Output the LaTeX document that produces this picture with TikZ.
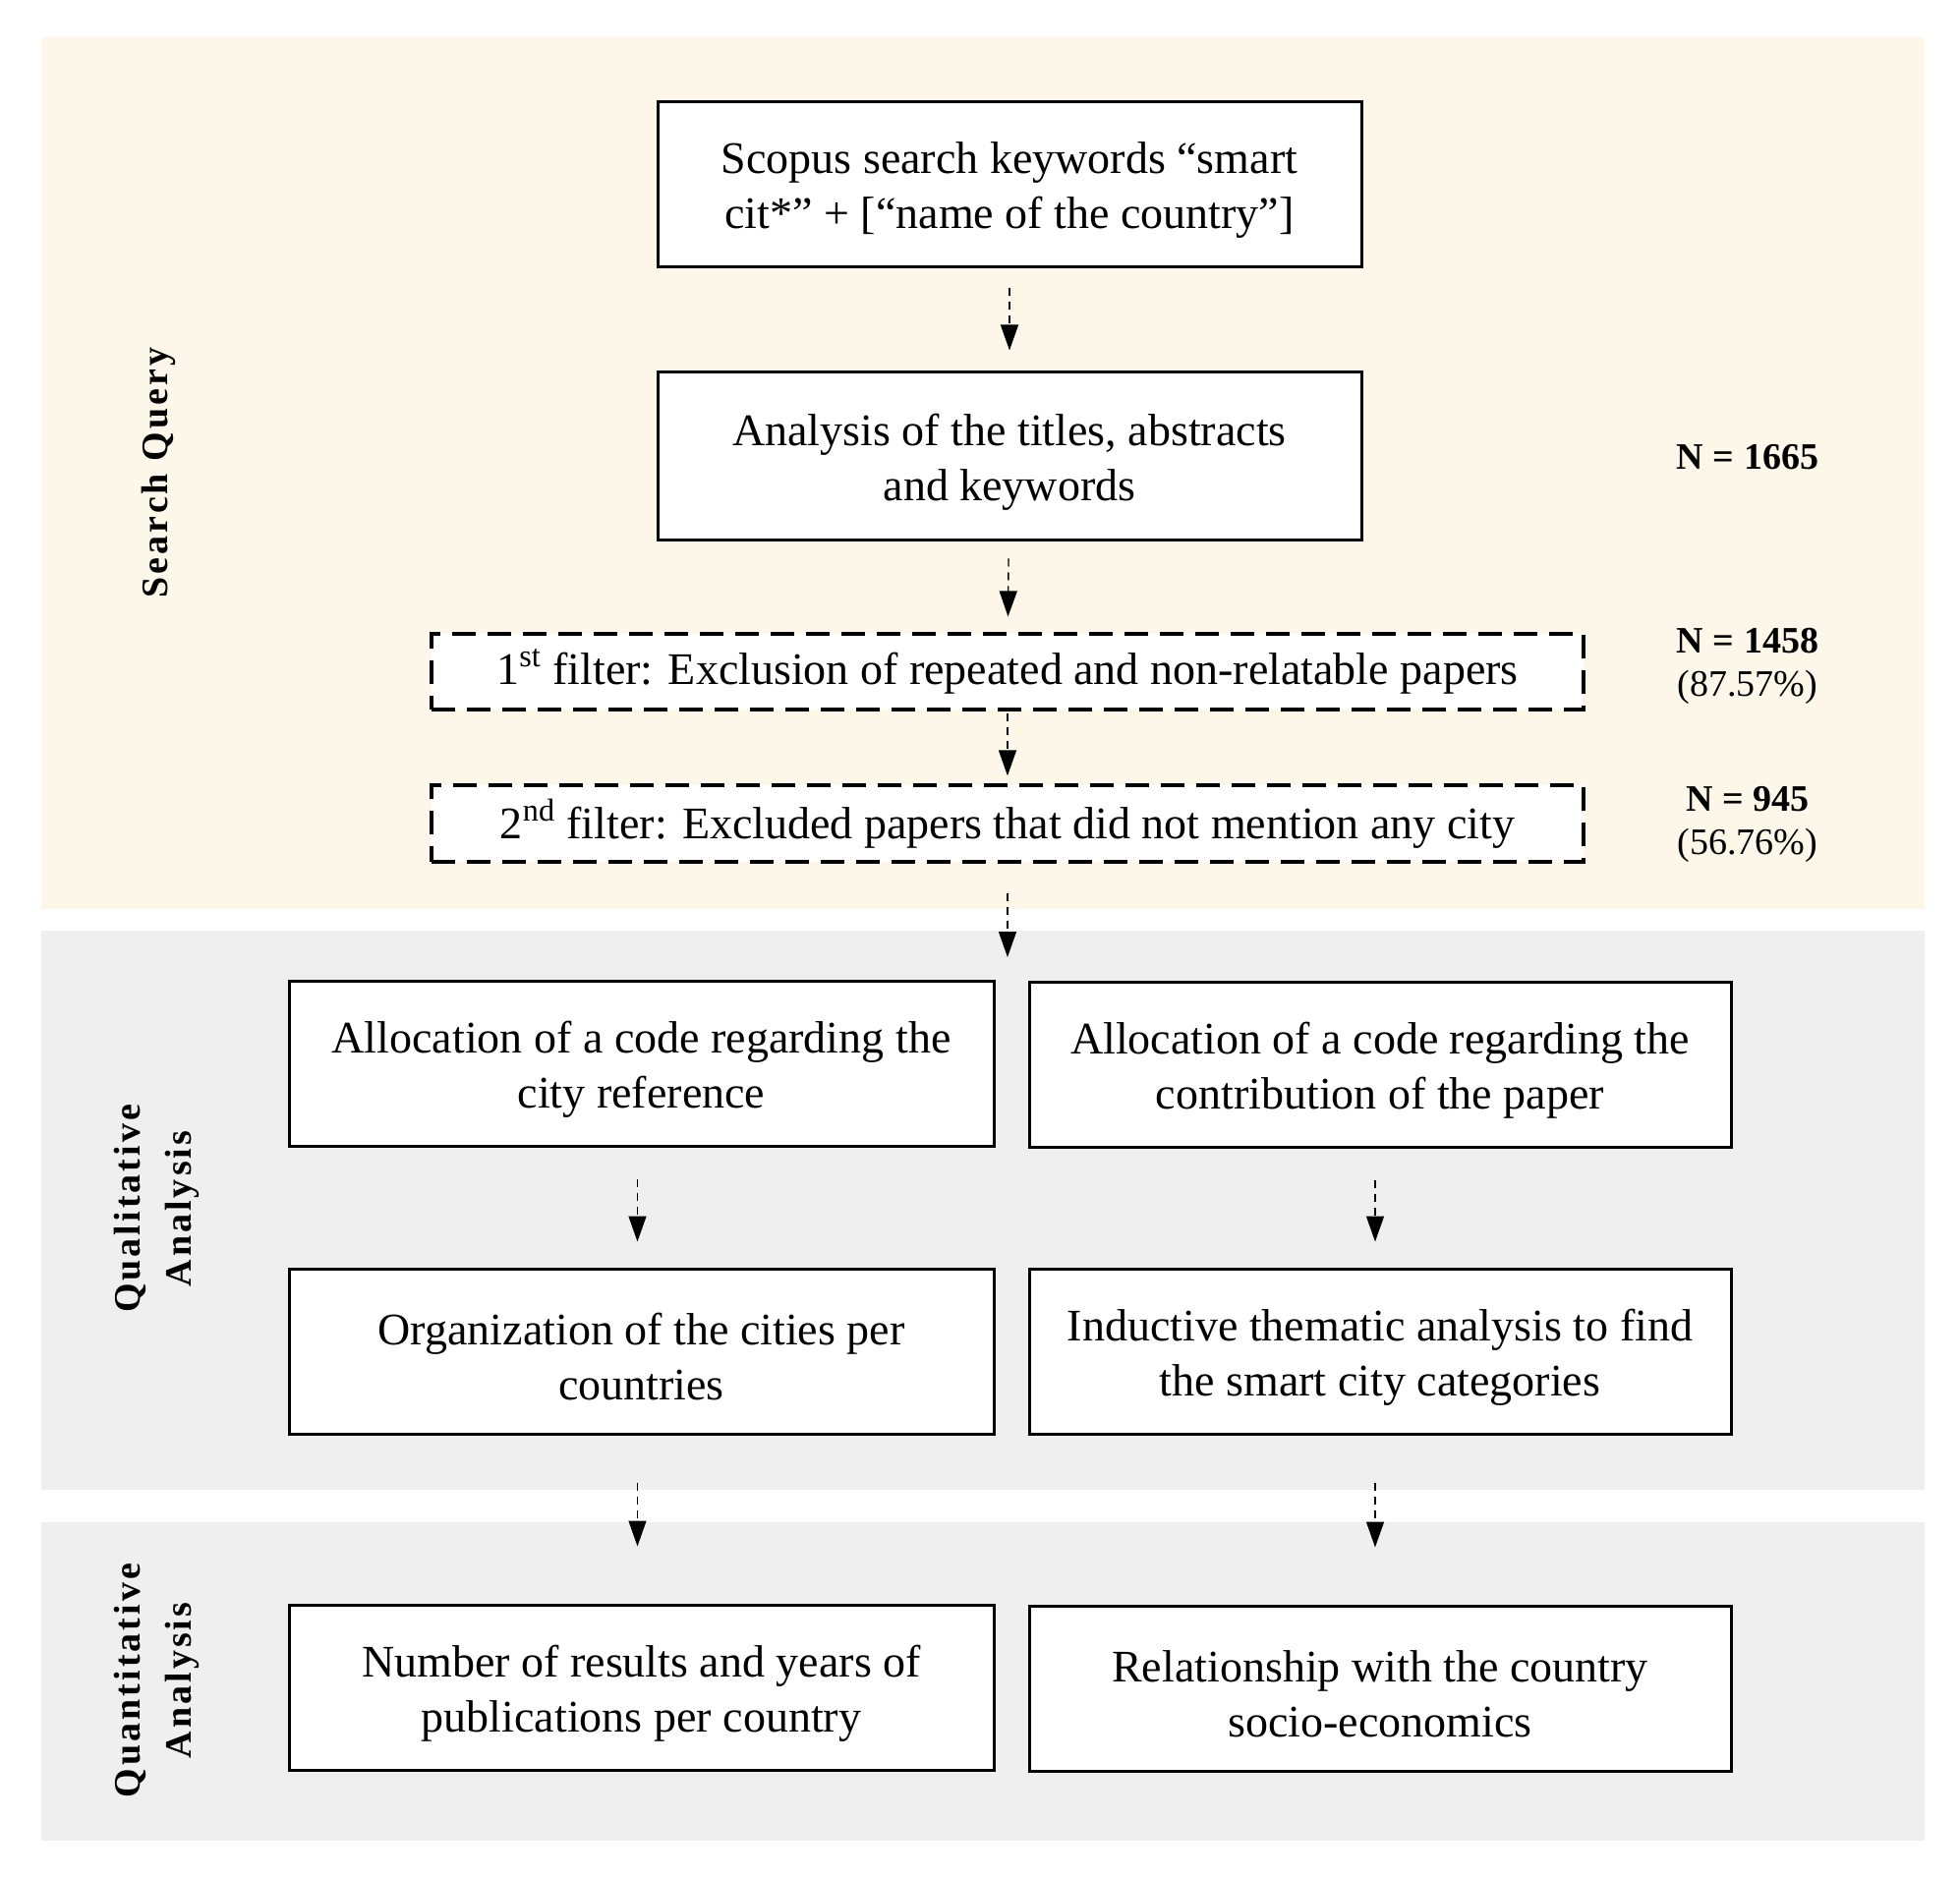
\documentclass[tikz,border=0pt]{standalone}
\usepackage{fontspec}
\setmainfont{Liberation Serif}
\usetikzlibrary{arrows.meta}
\definecolor{cream}{HTML}{FCF7E9}
\definecolor{band}{HTML}{EFEFEF}
\begin{document}
\begin{tikzpicture}[x=0.5pt,y=-0.5pt,
  boxframe/.style={draw=black,line width=1.5pt,fill=white,inner sep=0pt},
  box/.style={boxframe,minimum width=358pt,minimum height=84pt},
  txt/.style={label={[align=center,inner sep=0pt,yshift=-3pt,font=\fontsize{23}{28}\selectfont]center:{#1}}},
  fbox/.style={draw=black,line width=1.6pt,fill=white,align=center,inner sep=0pt,
    dash pattern=on 12pt off 6pt,font=\fontsize{23}{28}\selectfont},
  arr/.style={line width=0.7pt,dash pattern=on 4pt off 3pt,
    -{Triangle[width=9pt,length=13pt]}},
  nlab/.style={align=center,font=\fontsize{19}{22}\selectfont},
  side/.style={rotate=90,align=center,font=\fontsize{19}{26}\selectfont\bfseries\addfontfeatures{LetterSpace=8}}
]
\useasboundingbox (0,0) rectangle (1994,1910);
\fill[white] (0,0) rectangle (1994,1910);
% bands
\fill[cream] (42,38) rectangle (1958,925);
\fill[band] (42,947) rectangle (1958,1516);
\fill[band] (42,1549) rectangle (1958,1873);
% side labels
\node[side] (sq) at (161,481) {Search Query};
\node[side] (ql) at (159,1230) {Qualitative\\Analysis};
\node[side] (qn) at (159,1710) {Quantitative\\Analysis};
% search boxes
\node[box,txt={Scopus search keywords “smart\\cit*” + [“name of the country”]}] (b1) at (1027,188) {};
\node[box,minimum height=85pt,txt={Analysis of the titles, abstracts\\and keywords}] (b2) at (1027,464) {};
\node[fbox,minimum width=586pt,minimum height=38.5pt] (f1) at (1025,683.5)
  {\raisebox{-1pt}{1\textsuperscript{st} filter: Exclusion of repeated and non-relatable papers}};
\node[fbox,minimum width=586pt,minimum height=39pt] (f2) at (1025,838)
  {\raisebox{-1pt}{2\textsuperscript{nd} filter: Excluded papers that did not mention any city}};
% N labels
\node[nlab] (n1) at (1778,465) {\textbf{N = 1665}};
\node[nlab] (n2) at (1778,678) {\textbf{N = 1458}\\(87.57\%)};
\node[nlab] (n3) at (1778,839) {\textbf{N = 945}\\(56.76\%)};
% qualitative boxes
\node[box,minimum width=358.5pt,txt={Allocation of a code regarding the\\city reference}] (q1) at (652.5,1082) {};
\node[box,minimum width=357pt,txt={Allocation of a code regarding the\\contribution of the paper}] (q2) at (1404,1083) {};
\node[box,minimum width=358.5pt,txt={Organization of the cities per\\countries}] (q3) at (652.5,1375) {};
\node[box,minimum width=357pt,txt={Inductive thematic analysis to find\\the smart city categories}] (q4) at (1404,1375) {};
% quantitative boxes
\node[box,minimum width=358.5pt,txt={Number of results and years of\\publications per country}] (t1) at (652.5,1717) {};
\node[box,minimum width=357pt,txt={Relationship with the country\\socio-economics}] (t2) at (1404,1718) {};
% arrows
\coordinate (qtop) at (1025,974);
\draw[arr,shorten <=10pt,shorten >=10.5pt] (b1) -- (b2);
\draw[arr,shorten <=9pt,shorten >=8pt] (b2) -- (f1);
\draw[arr,shorten <=1pt,shorten >=4pt] (f1) -- (f2);
\draw[arr,shorten <=15pt] (f2.south) -- (qtop);
\draw[arr,shorten <=16pt,shorten >=13pt] ([xshift=-2pt]q1.south) -- ([xshift=-2pt]q3.north);
\draw[arr,shorten <=16pt,shorten >=13pt] ([xshift=-2.5pt]q2.south) -- ([xshift=-2.5pt]q4.north);
\draw[arr,shorten <=24pt,shorten >=29pt] ([xshift=-2pt]q3.south) -- ([xshift=-2pt]t1.north);
\draw[arr,shorten <=24pt,shorten >=29pt] ([xshift=-2.5pt]q4.south) -- ([xshift=-2.5pt]t2.north);
\end{tikzpicture}
\end{document}
